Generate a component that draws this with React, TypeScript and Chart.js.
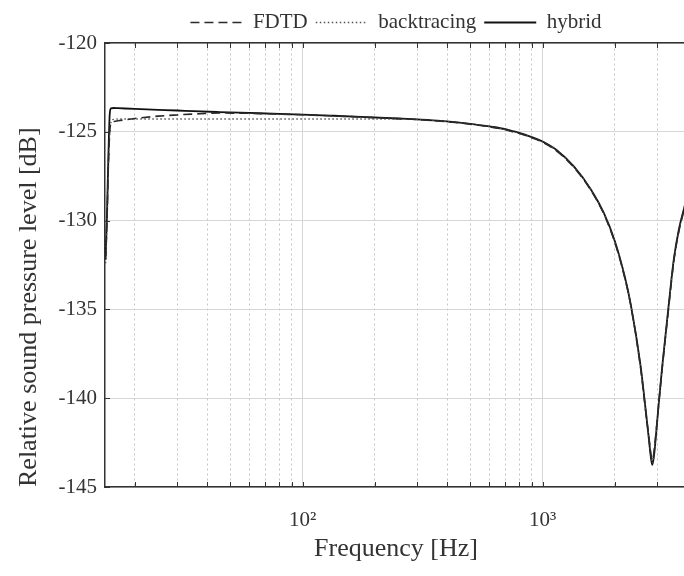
import React, { useEffect, useRef } from "react";
import { Chart, registerables } from "chart.js";

Chart.register(...registerables);

// ---------- data ----------
const freqs = [
  15.1, 15.3, 15.5, 15.7, 15.9, 16.3, 17, 20, 25, 30, 35, 45, 60, 80, 100, 130, 175, 250, 300, 376,
  500, 600, 700, 750, 800, 900, 1000, 1150, 1350, 1600, 1800, 2000, 2200, 2330, 2560, 2700, 2780,
  2820, 2866, 2910, 2958, 3050, 3154, 3361, 3523, 3700, 3907, 4000,
];

const fdtd = [
  -132.2, -129.8, -126.8, -125.0, -124.5, -124.42, -124.38, -124.25, -124.12, -124.05, -124.0, -123.94,
  -123.96, -124.0, -124.04, -124.1, -124.17, -124.26, -124.31, -124.4, -124.57, -124.72, -124.88, -124.99,
  -125.09, -125.33, -125.58, -126.1, -127.0, -128.35, -129.62, -131.22, -133.2, -134.75, -138.25, -140.9,
  -142.3, -143.0, -143.5, -143.1, -142.2, -140.3, -138.3, -134.8, -132.3, -130.6, -129.3, -128.7,
];

const backtracing = [
  -132.4, -130.0, -127.0, -125.2, -124.45, -124.3, -124.28, -124.28, -124.28, -124.28, -124.28, -124.28,
  -124.28, -124.28, -124.28, -124.28, -124.28, -124.28, -124.31, -124.39, -124.56, -124.71, -124.87, -124.98,
  -125.08, -125.32, -125.57, -126.08, -126.98, -128.32, -129.6, -131.18, -133.18, -134.72, -138.2, -140.88,
  -142.35, -143.1, -143.65, -143.2, -142.3, -140.3, -138.25, -134.7, -132.25, -130.55, -129.25, -128.65,
];

const hybrid = [
  -132.0, -129.5, -126.3, -124.0, -123.68, -123.66, -123.67, -123.71, -123.76, -123.8, -123.84, -123.89,
  -123.94, -123.99, -124.03, -124.09, -124.16, -124.25, -124.3, -124.38, -124.55, -124.7, -124.85, -124.96,
  -125.06, -125.3, -125.55, -126.05, -126.95, -128.3, -129.57, -131.15, -133.15, -134.7, -138.15, -140.85,
  -142.4, -143.2, -143.75, -143.3, -142.35, -140.3, -138.2, -134.66, -132.2, -130.5, -129.2, -128.6,
];

const seriesLabels = ["FDTD", "backtracing", "hybrid"];
const yTicks = [-145, -140, -135, -130, -125, -120];
const majorX = [100, 1000];
const minorX = [20, 30, 40, 50, 60, 70, 80, 90, 200, 300, 400, 500, 600, 700, 800, 900, 2000, 3000];
const xTickLabels: Record<number, string> = { 100: "10²", 1000: "10³" };
const xTitle = "Frequency [Hz]";
const yTitle = "Relative sound pressure level [dB]";

const FONT = "'Liberation Serif', 'Times New Roman', serif";
const TEXT = "#333333";

const inwardTicks = {
  id: "inwardTicks",
  afterDatasetsDraw(chart: any) {
    const { ctx, chartArea, scales } = chart;
    const { left, top, bottom } = chartArea;
    ctx.save();
    ctx.strokeStyle = "#333333";
    ctx.lineWidth = 1;
    ctx.beginPath();
    [...majorX, ...minorX].forEach((v) => {
      const px = Math.round(scales.x.getPixelForValue(v)) + 0.5;
      ctx.moveTo(px, bottom);
      ctx.lineTo(px, bottom - 5);
      ctx.moveTo(px, top);
      ctx.lineTo(px, top + 5);
    });
    yTicks.forEach((v) => {
      const py = Math.round(scales.y.getPixelForValue(v)) + 0.5;
      ctx.moveTo(left, py);
      ctx.lineTo(left + 5, py);
    });
    ctx.stroke();
    ctx.restore();
  },
};

export default function App() {
  const ref = useRef<HTMLCanvasElement | null>(null);

  useEffect(() => {
    if (!ref.current) return;
    const styles = [
      { color: "#2a2a2a", width: 1.6, dash: [9, 5] },
      { color: "#555555", width: 1.3, dash: [1.5, 2.5] },
      { color: "#111111", width: 1.8, dash: [] as number[] },
    ];
    const values = [fdtd, backtracing, hybrid];
    const chart = new Chart(ref.current, {
      type: "line",
      data: {
        datasets: values.map((vals, i) => ({
          label: seriesLabels[i],
          data: freqs.map((f, j) => ({ x: f, y: vals[j] })),
          borderColor: styles[i].color,
          borderWidth: styles[i].width,
          borderDash: styles[i].dash,
          pointRadius: 0,
          pointStyle: "line",
          fill: false,
          cubicInterpolationMode: "monotone",
          xAxisID: "x",
          yAxisID: "y",
        })),
      },
      options: {
        responsive: false,
        animation: false,
        devicePixelRatio: 1,
        events: [],
        layout: { padding: { top: 4, right: 3, left: 0, bottom: 0 } },
        plugins: {
          tooltip: { enabled: false },
          legend: {
            position: "top",
            fullSize: false,
            labels: {
              usePointStyle: true,
              pointStyleWidth: 52,
              padding: 8,
              color: TEXT,
              font: { family: FONT, size: 21 },
              generateLabels: (c: any) =>
                c.data.datasets.map((ds: any, i: number) => ({
                  text: ds.label,
                  fillStyle: "rgba(0,0,0,0)",
                  strokeStyle: ds.borderColor,
                  lineWidth: ds.borderWidth,
                  lineDash: ds.borderDash,
                  pointStyle: "line",
                  hidden: false,
                  datasetIndex: i,
                  fontColor: TEXT,
                })),
            },
          },
        },
        scales: {
          x: {
            type: "logarithmic",
            position: "bottom",
            min: 15,
            max: 4000,
            afterBuildTicks: (s: any) => {
              s.ticks = majorX.map((v) => ({ value: v }));
            },
            afterFit: (s: any) => {
              s.height = 89;
            },
            ticks: {
              autoSkip: false,
              maxRotation: 0,
              padding: 21,
              color: TEXT,
              font: { family: FONT, size: 21 },
              callback: (v: any) => xTickLabels[Number(v)] ?? "",
            },
            grid: { color: "#d6d6d6", lineWidth: 1, drawTicks: false },
            border: { display: true, color: "#333333", width: 1.5 },
            title: {
              display: true,
              text: xTitle,
              color: TEXT,
              font: { family: FONT, size: 26 },
              padding: { top: 0, bottom: 11 },
            },
          },
          x2: {
            type: "logarithmic",
            position: "top",
            min: 15,
            max: 4000,
            afterBuildTicks: (s: any) => {
              s.ticks = minorX.map((v) => ({ value: v }));
            },
            afterFit: (s: any) => {
              s.height = 0;
            },
            ticks: { display: false },
            grid: { color: "#c4c4c4", lineWidth: 1, drawTicks: false },
            border: { display: true, color: "#333333", width: 1.5, dash: [2, 3] },
          },
          y: {
            type: "linear",
            position: "left",
            min: -145,
            max: -120,
            afterBuildTicks: (s: any) => {
              s.ticks = yTicks.map((v) => ({ value: v }));
            },
            afterFit: (s: any) => {
              s.width = 105;
            },
            ticks: {
              padding: 8,
              color: TEXT,
              font: { family: FONT, size: 21 },
              callback: (v: any) => String(v),
            },
            grid: { color: "#d6d6d6", lineWidth: 1, drawTicks: false },
            border: { display: true, color: "#333333", width: 1.5 },
            title: {
              display: true,
              text: yTitle,
              align: "start",
              color: TEXT,
              font: { family: FONT, size: 26 },
              padding: { top: 14, bottom: 0 },
            },
          },
        },
      },
      plugins: [inwardTicks],
    } as any);
    return () => chart.destroy();
  }, []);

  return (
    <div
      style={{
        position: "fixed",
        left: 0,
        top: 0,
        width: 684,
        height: 576,
        overflow: "hidden",
        background: "#ffffff",
      }}
    >
      <canvas ref={ref} width={690} height={576} style={{ display: "block" }} />
    </div>
  );
}
